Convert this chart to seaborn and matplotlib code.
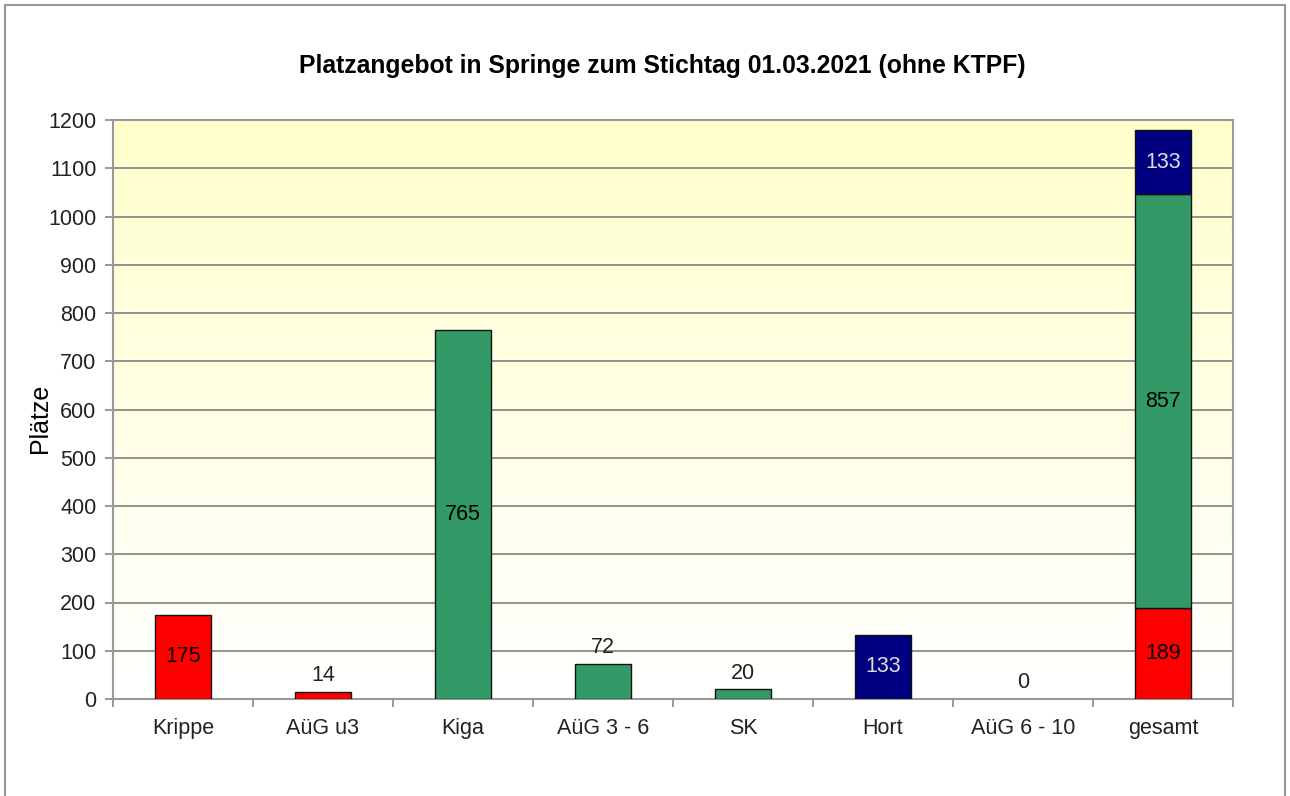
import numpy as np
import pandas as pd
import matplotlib
matplotlib.use("Agg")
import matplotlib.pyplot as plt
from matplotlib.patches import Rectangle
from matplotlib.colors import LinearSegmentedColormap
import seaborn as sns

categories = ["Krippe", "AüG u3", "Kiga", "AüG 3 - 6", "SK", "Hort", "AüG 6 - 10", "gesamt"]
u3_values = [175, 14, None, None, None, None, None, 189]
ue3_values = [None, None, 765, 72, 20, None, None, 857]
schul_values = [None, None, None, None, None, 133, 0, 133]
y_ticks = list(range(0, 1201, 100))

title = "Platzangebot in Springe zum Stichtag 01.03.2021 (ohne KTPF)"
y_label = "Plätze"

sns.set_theme(style="white")
plt.rcParams["font.family"] = ["Liberation Sans", "DejaVu Sans"]

fig = plt.figure(figsize=(12.9, 7.96), dpi=100)
ax = fig.add_axes([113 / 1290, 1 - 699 / 796, (1233 - 113) / 1290, (699 - 120) / 796])

df = pd.DataFrame({
    "Kategorie": categories,
    "u3": u3_values,
    "ue3": ue3_values,
    "schul": schul_values,
}).astype({"u3": float, "ue3": float, "schul": float})

series = [("u3", "#FF0000", "black"), ("ue3", "#339966", "black"), ("schul", "#000080", "#DDDDDD")]
bottom = np.zeros(len(categories))
for col, color, txt_color in series:
    vals = df[col].to_numpy()
    mask = ~np.isnan(vals)
    sub = df.loc[mask, ["Kategorie", col]]
    # zero-height bars get no outline
    widths = [1.0 if v > 0 else 0.0 for v in vals[mask]]
    sns.barplot(data=sub, x="Kategorie", y=col, ax=ax, color=color, width=0.4,
                edgecolor="#111111", linewidth=widths, saturation=1.0,
                bottom=bottom[mask], order=categories, zorder=3, errorbar=None)
    for i, v in enumerate(vals):
        if np.isnan(v):
            continue
        if v >= 100:
            ax.text(i, bottom[i] + v / 2, f"{int(v)}", ha="center", va="center",
                    fontsize=15.5, color=txt_color, zorder=5)
        else:
            ax.text(i, bottom[i] + v + 12, f"{int(v)}", ha="center", va="bottom",
                    fontsize=15.5, color="#222222", zorder=5)
    bottom = bottom + np.nan_to_num(vals)

ax.set_xlim(-0.5, len(categories) - 0.5)
ax.set_ylim(0, 1200)
ax.set_yticks(y_ticks)
ax.set_yticklabels([str(t) for t in y_ticks], fontsize=15.5, color="#222222")
ax.set_xticks(range(len(categories)))
ax.set_xticklabels(categories, fontsize=15.5, color="#222222")
ax.tick_params(axis="x", length=0, pad=14)
ax.set_xticks(np.arange(-0.5, len(categories), 1.0), minor=True)
ax.tick_params(axis="x", which="minor", length=6, color="#888888", width=1.2, direction="out", bottom=True)
ax.tick_params(axis="y", length=6, color="#888888", width=1.2, direction="out", pad=6, left=True)
ax.set_xlabel("")
ax.set_ylabel("")
fig.text(40 / 1290, 1 - 418 / 796, y_label, rotation=90, ha="center", va="center",
         fontsize=18, color="black")

# gradient fill behind the bars
cmap = LinearSegmentedColormap.from_list("bg", ["#FFFFFF", "#FFFFCC"])
grad = np.linspace(0, 1, 256).reshape(-1, 1)
ax.imshow(grad, cmap=cmap, origin="lower", aspect="auto",
          extent=[-0.5, len(categories) - 0.5, 0, 1200], zorder=0)

for t in y_ticks[1:-1]:
    ax.axhline(t, color="#808080", linewidth=1.2, zorder=1)

for side in ["top", "right", "left", "bottom"]:
    ax.spines[side].set_visible(True)
    ax.spines[side].set_color("#999999")
    ax.spines[side].set_linewidth(1.5)

fig.text(662 / 1290, 1 - 66 / 796, title, ha="center", va="center", fontsize=17.8,
         fontweight="bold", color="black")

fig.patches.append(Rectangle((5 / 1290, -0.05), 1280 / 1290, 1.05 - 5 / 796,
                             transform=fig.transFigure, fill=False,
                             edgecolor="#999999", linewidth=1.5))

fig.savefig("out.png", dpi=100)
